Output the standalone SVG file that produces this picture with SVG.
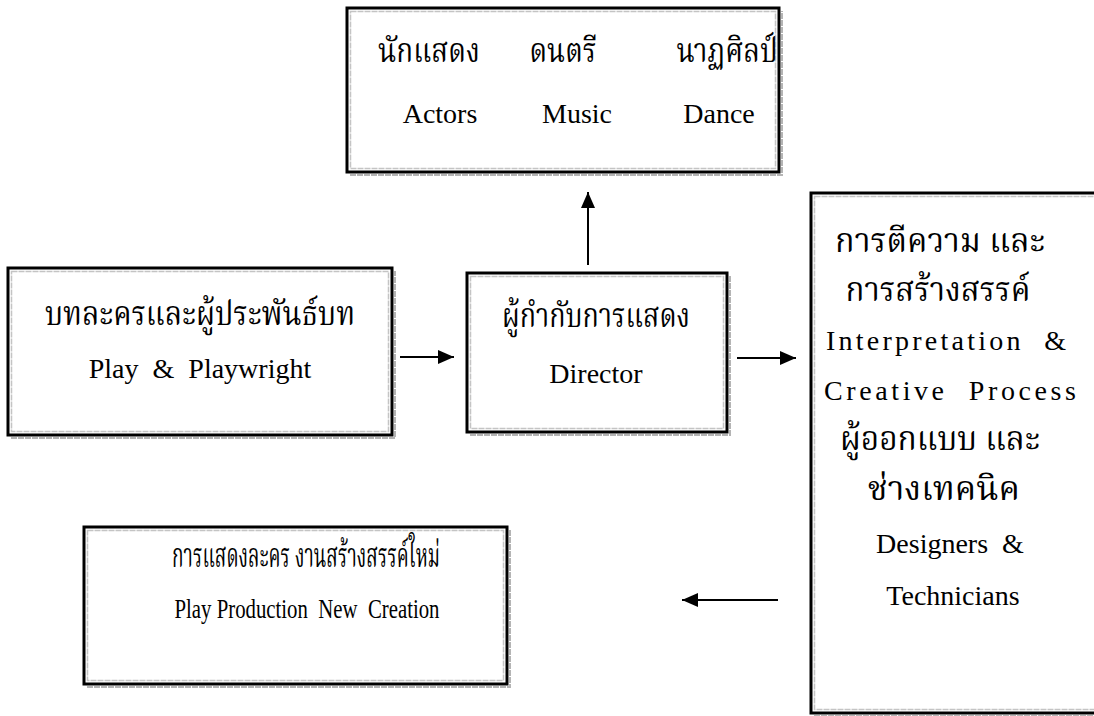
<svg xmlns="http://www.w3.org/2000/svg" width="1094" height="716" viewBox="0 0 1094 716">
<defs>
<style>
.box{fill:#fff;stroke:#000;stroke-width:3}
.inner{fill:none;stroke:#c4c4c4;stroke-width:1.5;stroke-dasharray:6 1}
.shadow{fill:none;stroke:#b4b4b4;stroke-width:2;stroke-dasharray:6 1}
.conn{stroke:#000;stroke-width:2;fill:none}
</style>
<marker id="ah" viewBox="0 0 16 14" refX="16" refY="7" markerWidth="16" markerHeight="14" markerUnits="userSpaceOnUse" orient="auto">
<path d="M0,0 L16,7 L0,14 Z" fill="#000"/>
</marker>
</defs>
<rect width="1094" height="716" fill="#fff"/>

<g id="node-arts">
<path class="shadow" d="M350,175 H782 V11"/>
<rect class="box" x="347" y="8" width="432" height="164"/>
<rect class="inner" x="350.5" y="11.5" width="425" height="157"/>
<text style="font-family:'Noto Serif Thai','Liberation Serif',serif;font-size:34px;text-anchor:middle" x="429" y="62" textLength="102" lengthAdjust="spacingAndGlyphs">นักแสดง</text>
<text style="font-family:'Noto Serif Thai','Liberation Serif',serif;font-size:34px;text-anchor:middle" x="563" y="62" textLength="67" lengthAdjust="spacingAndGlyphs">ดนตรี</text>
<text style="font-family:'Noto Serif Thai','Liberation Serif',serif;font-size:34px;text-anchor:middle" x="727" y="62" textLength="101" lengthAdjust="spacingAndGlyphs">นาฏศิลป์</text>
<text style="font-family:'Liberation Serif',serif;font-size:28px;text-anchor:middle" x="440" y="123">Actors</text>
<text style="font-family:'Liberation Serif',serif;font-size:28px;text-anchor:middle" x="577" y="123">Music</text>
<text style="font-family:'Liberation Serif',serif;font-size:28px;text-anchor:middle" x="719" y="123">Dance</text>
</g>

<g id="node-play">
<path class="shadow" d="M11,438 H395 V271"/>
<rect class="box" x="8" y="268" width="384" height="167"/>
<rect class="inner" x="11.5" y="271.5" width="377" height="160"/>
<text style="font-family:'Noto Serif Thai','Liberation Serif',serif;font-size:34px;text-anchor:middle" x="200" y="325" textLength="310" lengthAdjust="spacingAndGlyphs">บทละครและผู้ประพันธ์บท</text>
<text style="font-family:'Liberation Serif',serif;font-size:28px;text-anchor:middle" x="200" y="378">Play&#160;&#160;&amp;&#160;&#160;Playwright</text>
</g>

<g id="node-director">
<path class="shadow" d="M470,435 H730 V276"/>
<rect class="box" x="467" y="273" width="260" height="159"/>
<rect class="inner" x="470.5" y="276.5" width="253" height="152"/>
<text style="font-family:'Noto Serif Thai','Liberation Serif',serif;font-size:34px;text-anchor:middle" x="596" y="327" textLength="188" lengthAdjust="spacingAndGlyphs">ผู้กำกับการแสดง</text>
<text style="font-family:'Liberation Serif',serif;font-size:28px;text-anchor:middle" x="596" y="383">Director</text>
</g>

<g id="node-interpret">
<path class="shadow" d="M814,716 H1100"/>
<rect class="box" x="811" y="193" width="290" height="520"/>
<rect class="inner" x="814.5" y="196.5" width="290" height="513"/>
<text style="font-family:'Noto Serif Thai','Liberation Serif',serif;font-size:34px;text-anchor:middle" x="940" y="252" textLength="210" lengthAdjust="spacingAndGlyphs">การตีความ และ</text>
<text style="font-family:'Noto Serif Thai','Liberation Serif',serif;font-size:34px;text-anchor:middle" x="938" y="301" textLength="185" lengthAdjust="spacingAndGlyphs">การสร้างสรรค์</text>
<text style="font-family:'Liberation Serif',serif;font-size:28px;text-anchor:middle" x="946" y="350" textLength="240" lengthAdjust="spacing">Interpretation&#160;&#160;&amp;</text>
<text style="font-family:'Liberation Serif',serif;font-size:28px;text-anchor:middle" x="950" y="400" textLength="252" lengthAdjust="spacing">Creative&#160;&#160;Process</text>
<text style="font-family:'Noto Serif Thai','Liberation Serif',serif;font-size:34px;text-anchor:middle" x="940" y="450" textLength="200" lengthAdjust="spacingAndGlyphs">ผู้ออกแบบ และ</text>
<text style="font-family:'Noto Serif Thai','Liberation Serif',serif;font-size:34px;text-anchor:middle" x="944" y="500" textLength="152" lengthAdjust="spacingAndGlyphs">ช่างเทคนิค</text>
<text style="font-family:'Liberation Serif',serif;font-size:28px;text-anchor:middle" x="950" y="553">Designers&#160;&#160;&amp;</text>
<text style="font-family:'Liberation Serif',serif;font-size:28px;text-anchor:middle" x="953" y="605">Technicians</text>
</g>

<g id="node-production">
<path class="shadow" d="M87,687 H510 V530"/>
<rect class="box" x="84" y="527" width="423" height="157"/>
<rect class="inner" x="87.5" y="530.5" width="416" height="150"/>
<text style="font-family:'Noto Serif Thai','Liberation Serif',serif;font-size:34px;text-anchor:middle" x="306" y="567" textLength="268" lengthAdjust="spacingAndGlyphs">การแสดงละคร งานสร้างสรรค์ใหม่</text>
<text style="font-family:'Liberation Serif',serif;font-size:28px;text-anchor:middle" x="307" y="618" textLength="265" lengthAdjust="spacingAndGlyphs">Play Production&#160;&#160;New&#160;&#160;Creation</text>
</g>

<g id="connectors">
<line class="conn" x1="588" y1="265" x2="588" y2="192" marker-end="url(#ah)"/>
<line class="conn" x1="400" y1="357" x2="454" y2="357" marker-end="url(#ah)"/>
<line class="conn" x1="737" y1="358" x2="796" y2="358" marker-end="url(#ah)"/>
<line class="conn" x1="778" y1="600" x2="682" y2="600" marker-end="url(#ah)"/>
</g>
</svg>
